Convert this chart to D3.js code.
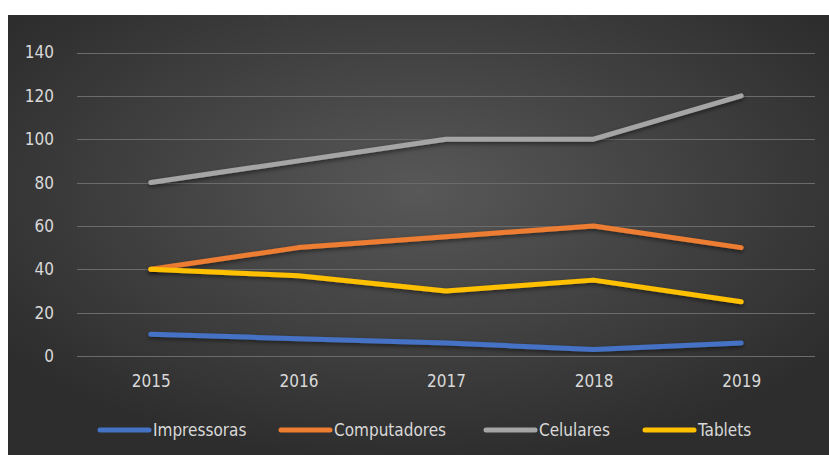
<!DOCTYPE html>
<html>
<head>
<meta charset="utf-8">
<script src="https://cdn.jsdelivr.net/npm/d3@7"></script>
<style>
  body { margin: 0; background: #fff; }
  svg { display: block; }
</style>
</head>
<body>
<div id="chart"></div>
<script>
const width = 829;
const height = 455;

// data
const years = ["2015", "2016", "2017", "2018", "2019"];
const impressoras = [10, 8, 6, 3, 6];
const computadores = [40, 50, 55, 60, 50];
const celulares = [80, 90, 100, 100, 120];
const tablets = [40, 37, 30, 35, 25];
const yTicks = [0, 20, 40, 60, 80, 100, 120, 140];
const seriesNames = ["Impressoras", "Computadores", "Celulares", "Tablets"];
const seriesColors = ["#4472C4", "#ED7D31", "#A5A5A5", "#FFC000"];

const series = [impressoras, computadores, celulares, tablets].map((values, i) => ({
    name: seriesNames[i],
    color: seriesColors[i],
    values: values
}));

const font = "'Liberation Sans Narrow', 'DejaVu Sans Condensed', 'Liberation Sans', sans-serif";

const svg = d3.select("#chart")
    .append("svg")
    .attr("width", width)
    .attr("height", height);

const defs = svg.append("defs");

const grad = defs.append("radialGradient")
    .attr("id", "bg")
    .attr("cx", "50%").attr("cy", "40%").attr("r", "62%");
grad.append("stop").attr("offset", "0%").attr("stop-color", "#585858");
grad.append("stop").attr("offset", "100%").attr("stop-color", "#2d2d2d");

const shadow = defs.append("filter")
    .attr("id", "shadow")
    .attr("x", "-5%").attr("y", "-30%").attr("width", "110%").attr("height", "160%");
shadow.append("feDropShadow")
    .attr("dx", 0).attr("dy", 2)
    .attr("stdDeviation", 2)
    .attr("flood-color", "#000")
    .attr("flood-opacity", 0.5);

defs.append("clipPath").attr("id", "area")
    .append("rect")
    .attr("x", 8).attr("y", 15)
    .attr("width", width - 8).attr("height", height - 15);

// chart area (cropped at top and left like the screenshot)
svg.append("rect")
    .attr("x", 8).attr("y", 15)
    .attr("width", width - 8).attr("height", height - 15)
    .attr("fill", "url(#bg)");

// title, mostly cut off by the screenshot
svg.append("g")
    .attr("clip-path", "url(#area)")
    .append("text")
    .attr("x", 423)
    .attr("y", 21)
    .attr("text-anchor", "middle")
    .attr("font-family", font)
    .attr("font-weight", "bold")
    .attr("font-size", 40)
    .attr("fill", "#3c3c3c")
    .text("Título do Gráfico");

const x = d3.scalePoint()
    .domain(years)
    .range([77, 815])
    .padding(0.5);

const y = d3.scaleLinear()
    .domain([0, 140])
    .range([356, 52.5]);

// gridlines
svg.append("g")
    .selectAll("line")
    .data(yTicks)
    .enter()
    .append("line")
    .attr("x1", 77)
    .attr("x2", 815)
    .attr("y1", d => Math.round(y(d)) + 0.5)
    .attr("y2", d => Math.round(y(d)) + 0.5)
    .attr("stroke", "#6b6b6b")
    .attr("stroke-width", 1);

// y axis labels
const yAxis = svg.append("g")
    .attr("transform", "translate(58,0)")
    .call(d3.axisLeft(y).tickValues(yTicks).tickSize(0).tickPadding(4));
yAxis.select(".domain").remove();
yAxis.selectAll("text")
    .attr("font-family", font)
    .attr("font-size", 17)
    .attr("fill", "#d9d9d9");

// x axis labels
const xAxis = svg.append("g")
    .attr("transform", "translate(0,372)")
    .call(d3.axisBottom(x).tickSize(0).tickPadding(3));
xAxis.select(".domain").remove();
xAxis.selectAll("text")
    .attr("font-family", font)
    .attr("font-size", 17)
    .attr("fill", "#d9d9d9");

const line = d3.line()
    .x((d, i) => x(years[i]))
    .y(d => y(d));

svg.append("g")
    .selectAll("path")
    .data(series)
    .enter()
    .append("path")
    .attr("d", d => line(d.values))
    .attr("fill", "none")
    .attr("stroke", d => d.color)
    .attr("stroke-width", 5)
    .attr("stroke-linecap", "round")
    .attr("stroke-linejoin", "round")
    .attr("filter", "url(#shadow)");

// legend
const legendX = [100, 281, 486, 645];
const legend = svg.append("g")
    .selectAll("g")
    .data(series)
    .enter()
    .append("g")
    .attr("transform", (d, i) => `translate(${legendX[i]},430)`);

legend.append("line")
    .attr("x1", 0).attr("x2", 49)
    .attr("y1", 0).attr("y2", 0)
    .attr("stroke", d => d.color)
    .attr("stroke-width", 5)
    .attr("stroke-linecap", "round");

legend.append("text")
    .attr("x", 53)
    .attr("y", 0)
    .attr("dy", "0.35em")
    .attr("font-family", font)
    .attr("font-size", 17)
    .attr("fill", "#d9d9d9")
    .text(d => d.name);
</script>
</body>
</html>
